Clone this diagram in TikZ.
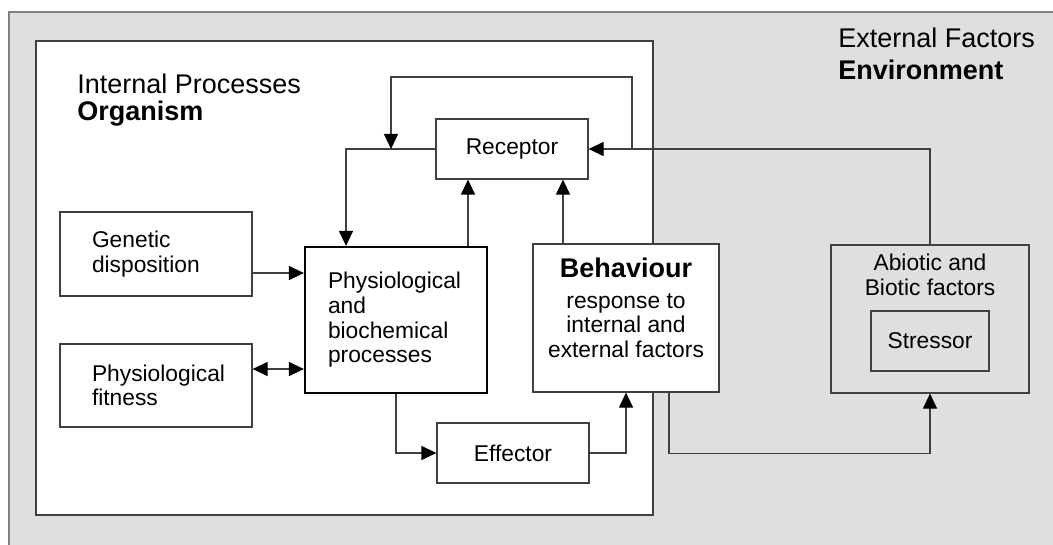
\documentclass[tikz,border=0pt]{standalone}
\usepackage{fontspec}
\setmainfont{Liberation Sans}
\usetikzlibrary{arrows.meta}

\definecolor{envgray}{HTML}{DFDFDF}
\definecolor{edgegray}{HTML}{808080}
\definecolor{linegray}{HTML}{404040}

\tikzset{
    box/.style={draw=linegray, line width=0.6pt, fill=white, inner sep=0pt,
        font=\fontsize{11.4}{12.3}\selectfont},
    boxleft/.style={box, align=left, inner xsep=16pt, text width=64pt},
    boxtext/.style={font=\fontsize{11.4}{12.3}\selectfont, align=center, inner sep=0pt},
    title/.style={anchor=base west, font=\fontsize{13.5}{14}\selectfont, inner sep=0pt},
    arr/.style={draw=linegray, line width=0.6pt, -{Triangle[length=7.5pt,width=7pt,color=black]}},
    darr/.style={draw=linegray, line width=0.6pt, {Triangle[length=7.5pt,width=7pt,color=black]}-{Triangle[length=7.5pt,width=7pt,color=black]}}
}

\begin{document}
\begin{tikzpicture}[x=0.5pt, y=-0.5pt]
    \useasboundingbox (0,0) rectangle (1053,545);

    % Environment
    \fill[envgray] (9,12) rectangle (1053,545);
    \draw[edgegray, line width=0.7pt] (9,545) -- (9,12) -- (1053,12);
    \node[title] (ext) at (838,48) {External Factors};
    \node[title] (env) at (838,80) {\bfseries Environment};

    % Organism
    \filldraw[fill=white, draw=linegray, line width=0.6pt] (36,41) rectangle (653,515);
    \node[title] (intp) at (77,94) {Internal Processes};
    \node[title] (org) at (77,121) {\bfseries Organism};

    % Boxes
    \node[box, minimum width=76pt, minimum height=30pt] (rec) at (512,149) {Receptor};
    \node[boxleft, minimum height=42pt] (gen) at (156,254) {Genetic\\disposition};
    \node[boxleft, minimum height=41.5pt] (fit) at (156,385.5) {Physiological\\fitness};
    \node[box, line width=1.1pt, draw=black, align=left, inner xsep=11.5pt, text width=68pt,
        minimum height=73pt] (phys) at (396,320)
        {Physiological\\and\\biochemical\\processes};
    \node[box, minimum width=93pt, minimum height=74pt] (beh) at (626,318) {};
    \node[boxtext] (behtxt) at (626,308)
        {{\fontsize{13.5}{14}\selectfont\bfseries Behaviour}\\[3pt]response to\\internal and\\external factors};
    \node[box, minimum width=76pt, minimum height=30pt] (eff) at (513,453) {Effector};

    % Abiotic and biotic factors
    \node[box, fill=envgray, minimum width=99pt, minimum height=74pt] (abio) at (930,319) {};
    \node[boxtext] (abiotxt) at (930,275) {Abiotic and\\Biotic factors};
    \node[box, fill=envgray, minimum width=59pt, minimum height=30pt] (str) at (930,341) {Stressor};

    % Arrows
    \coordinate (fbR) at (632,149);
    \coordinate (fbL) at (391,149);
    \draw[arr] (rec.west) -| ([xshift=-25pt]phys.north);
    \draw[arr] (fbR) -- ++(0,-72) -| (fbL);
    \draw[arr] (abio.north) |- (rec.east);
    \draw[arr] ([xshift=36pt]phys.north) -- ([xshift=36pt]phys.north |- rec.south);
    \draw[arr] ([xshift=-31.5pt]beh.north) -- ([xshift=-31.5pt]beh.north |- rec.south);
    \draw[arr] ([yshift=-9.5pt]gen.east) -- ([yshift=-9.5pt]gen.east -| phys.west);
    \draw[darr] ([yshift=8.25pt]fit.east) -- ([yshift=8.25pt]fit.east -| phys.west);
    \draw[arr] (phys.south) |- (eff.west);
    \draw[arr] (eff.east) -| (beh.south);
    \draw[arr] ([xshift=21.5pt]beh.south) -- ++(0,61) -| (abio.south);
\end{tikzpicture}
\end{document}
